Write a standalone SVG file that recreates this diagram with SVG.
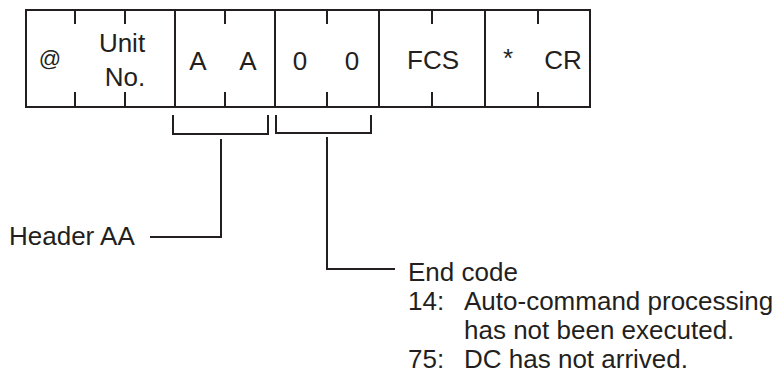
<svg xmlns="http://www.w3.org/2000/svg" width="779" height="382" viewBox="0 0 779 382">
<style>
.ln{stroke:#231f20;stroke-width:2;fill:none;stroke-linecap:butt}
.t{font-family:"Liberation Sans",Arial,sans-serif;font-size:26px;fill:#231f20}
.m{text-anchor:middle}
</style>
<rect width="779" height="382" fill="#fff"/>
<g id="frame">
<rect class="ln" x="26" y="10" width="564" height="97"/>
<path class="ln" d="M175 10V107M275 10V107M379 10V107M485 10V107"/>
<path class="ln" d="M75 10V24M75 92V107M125 10V24M125 92V107M225 10V24M225 92V107M327 10V24M327 92V107M432 10V24M432 92V107M538 10V24M538 92V107"/>
</g>
<g id="field-at"><text class="t m" x="50" y="66" style="font-size:22px">@</text></g>
<g id="field-unit"><text class="t m" x="122" y="52">Unit</text><text class="t m" x="125" y="86">No.</text></g>
<g id="field-header"><text class="t m" x="198" y="70">A</text><text class="t m" x="248" y="70">A</text></g>
<g id="field-endcode"><text class="t m" x="300" y="70">0</text><text class="t m" x="352" y="70">0</text></g>
<g id="field-fcs"><text class="t m" x="433" y="69">FCS</text></g>
<g id="field-term"><text class="t m" x="508" y="67">*</text><text class="t m" x="563" y="69">CR</text></g>
<g id="connectors">
<path class="ln" d="M173 115V134H268V115"/>
<path class="ln" d="M276 115V133H371V115"/>
<path class="ln" d="M221 139V237H150"/>
<path class="ln" d="M327 137V269H395"/>
</g>
<g id="label-header"><text class="t" x="9" y="245">Header AA</text></g>
<g id="label-endcode">
<text class="t" x="408" y="281">End code</text>
<text class="t" x="408" y="310">14:</text>
<text class="t" x="464" y="310">Auto-command processing</text>
<text class="t" x="464" y="339">has not been executed.</text>
<text class="t" x="408" y="368">75:</text>
<text class="t" x="464" y="368">DC has not arrived.</text>
</g>
</svg>
